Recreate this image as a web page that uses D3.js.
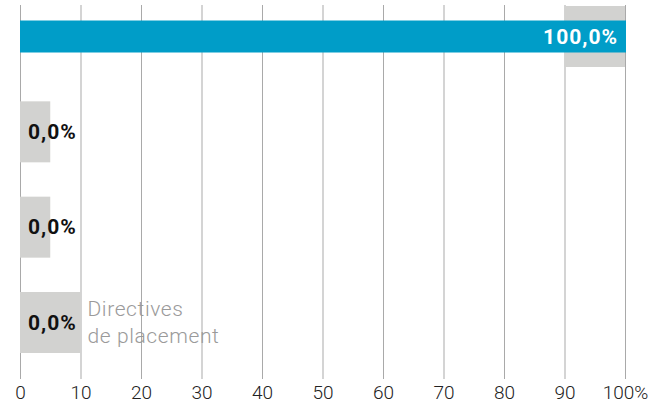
<!DOCTYPE html>
<html>
<head>
<meta charset="utf-8">
<script src="https://cdn.jsdelivr.net/npm/d3@7"></script>
<style>
  body { margin: 0; background: #fff; }
  svg text { font-family: Roboto, "DejaVu Sans", sans-serif; }
</style>
</head>
<body>
<div id="chart"></div>
<script>
// Données du graphique
const categories = ["a", "b", "c", "d"]
const categoryNames = ["", "", "", ["Directives", "de placement"]]
const values = [100, 0, 0, 0]
const valueLabels = ["100,0%", "0,0%", "0,0%", "0,0%"]
// boîtes grises derrière les étiquettes (en unités de l'axe)
const boxFrom = [90, 0, 0, 0]
const boxTo = [100, 5, 5, 10]
const ticks = [0, 10, 20, 30, 40, 50, 60, 70, 80, 90, 100]

const width = 669
const height = 405
const gridTop = 5
const gridBottom = 379

const svg = d3.select("#chart")
              .append("svg")
              .attr("width", width)
              .attr("height", height)

const x = d3.scaleLinear()
            .domain([0, 100])
            .range([20, 625])

const y = d3.scalePoint()
            .domain(categories)
            .range([36.5, 322.5])

// Quadrillage vertical
svg.append("g")
   .selectAll("line")
   .data(ticks)
   .join("line")
   .attr("x1", d => x(d) + 0.5)
   .attr("x2", d => x(d) + 0.5)
   .attr("y1", gridTop)
   .attr("y2", gridBottom)
   .attr("stroke", "#a9a9a9")
   .attr("stroke-width", 1)

// Libellés de l'axe x
svg.append("g")
   .selectAll("text")
   .data(ticks)
   .join("text")
   .attr("x", d => x(d) + 0.5)
   .attr("y", 399)
   .attr("text-anchor", "middle")
   .attr("font-size", 19)
   .attr("font-weight", 300)
   .attr("fill", "#222")
   .text(d => d === 100 ? "100%" : d)

// Boîtes grises
svg.append("g")
   .selectAll("rect")
   .data(categories)
   .join("rect")
   .attr("x", (d, i) => x(boxFrom[i]))
   .attr("width", (d, i) => x(boxTo[i]) - x(boxFrom[i]))
   .attr("y", d => y(d) - 30.5)
   .attr("height", 61)
   .attr("fill", "#d2d2d0")

// Barres
svg.append("g")
   .selectAll("rect")
   .data(categories.filter((d, i) => values[i] > 0))
   .join("rect")
   .attr("x", x(0))
   .attr("width", d => x(values[categories.indexOf(d)]) - x(0) + 1)
   .attr("y", d => y(d) - 16)
   .attr("height", 32)
   .attr("fill", "#009dc8")

// Valeurs
svg.append("g")
   .selectAll("text")
   .data(categories)
   .join("text")
   .attr("x", (d, i) => values[i] > 50 ? x(values[i]) - 7 : x(values[i]) + 8)
   .attr("y", d => y(d) + 7)
   .attr("text-anchor", (d, i) => values[i] > 50 ? "end" : "start")
   .attr("font-size", 21)
   .attr("font-weight", 700)
   .attr("letter-spacing", 1)
   .attr("fill", (d, i) => values[i] > 50 ? "#fff" : "#111")
   .text((d, i) => valueLabels[i])

// Nom de catégorie (seul le dernier est visible)
categories.forEach((c, i) => {
    if (!categoryNames[i]) return
    const t = svg.append("text")
                 .attr("x", x(boxTo[i]) + 7)
                 .attr("y", y(c) - 6.5)
                 .attr("font-size", 21)
                 .attr("font-weight", 300)
                 .attr("letter-spacing", 0.6)
                 .attr("fill", "#9a9a9a")
    categoryNames[i].forEach((line, j) => {
        t.append("tspan")
         .attr("x", x(boxTo[i]) + 7)
         .attr("dy", j === 0 ? 0 : 26.5)
         .text(line)
    })
})
</script>
</body>
</html>
